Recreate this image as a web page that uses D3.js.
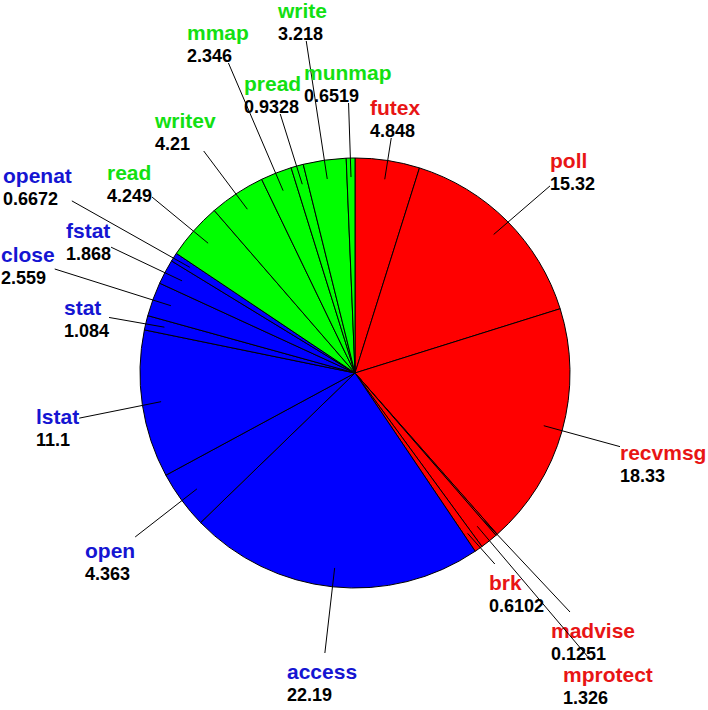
<!DOCTYPE html>
<html>
<head>
<meta charset="utf-8">
<script src="https://cdn.jsdelivr.net/npm/d3@7"></script>
<style>
  body { margin: 0; background: #fff; }
  svg { display: block; }
  text { font-family: "Liberation Sans", Arial, sans-serif; font-weight: bold; }
</style>
</head>
<body>
<svg id="chart" width="708" height="710"></svg>
<script>
// syscalls, clockwise from 12 o'clock
const syscalls = ["futex", "poll", "recvmsg", "madvise", "mprotect", "brk",
    "access", "open", "lstat", "stat", "close", "fstat", "openat",
    "read", "writev", "mmap", "pread", "write", "munmap"];
const percents = [4.848, 15.32, 18.33, 0.1251, 1.326, 0.6102,
    22.19, 4.363, 11.1, 1.084, 2.559, 1.868, 0.6672,
    4.249, 4.21, 2.346, 0.9328, 3.218, 0.6519];
const groups = ["net", "net", "net", "net", "net", "net",
    "file", "file", "file", "file", "file", "file", "file",
    "io", "io", "io", "io", "io", "io"];

// where each label sits: [left x, name baseline y]
const labelPos = [[370, 115], [550, 168], [620, 460], [551, 638], [563, 682], [489, 590],
    [287, 679], [85, 558], [36, 424], [64, 315], [1, 262], [66, 238], [3, 183],
    [107, 180], [155, 128], [187, 40], [244, 91], [278, 18], [304, 80]];

const fillColor = d3.scaleOrdinal().domain(["net", "file", "io"]).range(["#ff0000", "#0000ff", "#00ff00"]);
const textColor = d3.scaleOrdinal().domain(["net", "file", "io"]).range(["#e81515", "#1515d2", "#12e012"]);

const cx = 355, cy = 373, radius = 215, leadR = 196;

const svg = d3.select("#chart");
const g = svg.append("g").attr("transform", "translate(" + cx + "," + cy + ")");

const pie = d3.pie().sort(null).value(d => d.value);
const arc = d3.arc().innerRadius(0).outerRadius(radius);

const data = syscalls.map((s, i) => ({ name: s, value: percents[i], group: groups[i], pos: labelPos[i] }));
const arcs = pie(data);

g.selectAll("path.slice")
    .data(arcs)
    .enter().append("path")
    .attr("class", "slice")
    .attr("d", arc)
    .attr("fill", d => fillColor(d.data.group))
    .attr("stroke", "#000")
    .attr("stroke-width", 1);

// labels
const labels = svg.append("g").selectAll("g.label")
    .data(arcs)
    .enter().append("g")
    .attr("class", "label");

labels.append("text")
    .attr("class", "name")
    .attr("x", d => d.data.pos[0])
    .attr("y", d => d.data.pos[1])
    .attr("font-size", 21)
    .attr("fill", d => textColor(d.data.group))
    .text(d => d.data.name);

labels.append("text")
    .attr("class", "val")
    .attr("x", d => d.data.pos[0])
    .attr("y", d => d.data.pos[1] + 22)
    .attr("font-size", 18)
    .attr("fill", "#000")
    .text(d => d.data.value);

// leader lines: from the slice middle towards the label centre, stopping at the label box
labels.each(function(d) {
    const el = d3.select(this);
    const w = Math.max(el.select(".name").node().getComputedTextLength(),
                       el.select(".val").node().getComputedTextLength());
    const a = (d.startAngle + d.endAngle) / 2;
    const x0 = cx + Math.sin(a) * leadR;
    const y0 = cy - Math.cos(a) * leadR;
    const bx0 = d.data.pos[0], bx1 = d.data.pos[0] + w;
    const by0 = d.data.pos[1] - 26, by1 = d.data.pos[1] + 23;
    const dx = (bx0 + bx1) / 2 - x0, dy = (by0 + by1) / 2 - y0;
    const tx = dx === 0 ? -Infinity : Math.min((bx0 - x0) / dx, (bx1 - x0) / dx);
    const ty = dy === 0 ? -Infinity : Math.min((by0 - y0) / dy, (by1 - y0) / dy);
    const t = Math.max(0, Math.max(tx, ty));
    el.insert("line", "text")
        .attr("x1", x0).attr("y1", y0)
        .attr("x2", x0 + dx * t).attr("y2", y0 + dy * t)
        .attr("stroke", "#000")
        .attr("stroke-width", 1);
});
</script>
</body>
</html>
